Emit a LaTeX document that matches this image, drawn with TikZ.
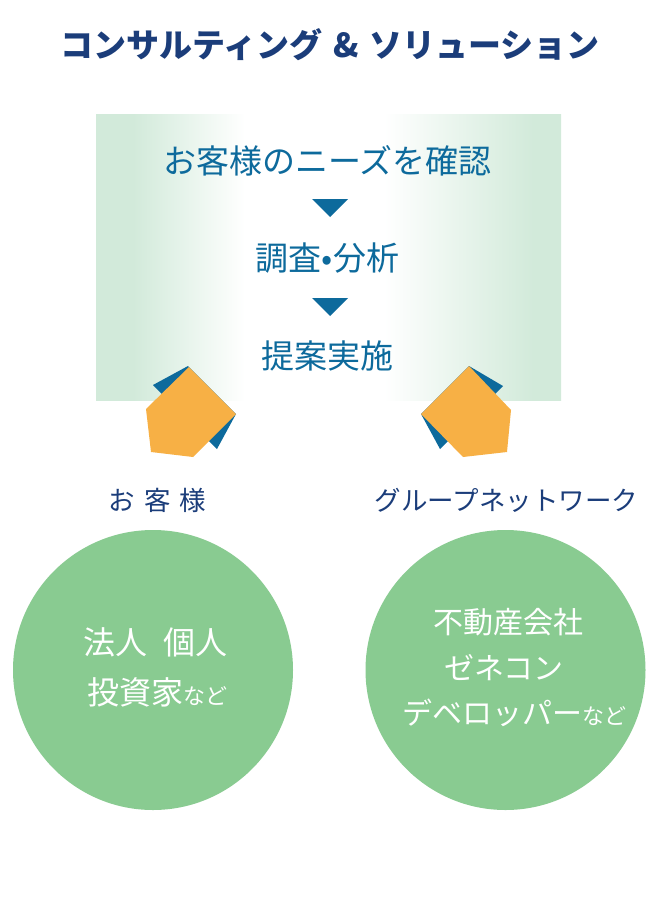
\documentclass[tikz,border=0pt]{standalone}
\usepackage{fontspec}
\setmainfont{Noto Sans CJK JP}
\definecolor{navy}{HTML}{1B3D7A}
\definecolor{procblue}{HTML}{0D6A9C}
\definecolor{boxgreen}{HTML}{D2EADA}
\definecolor{orangep}{HTML}{F7B045}
\definecolor{circgreen}{HTML}{89CB91}
\pgfdeclarehorizontalshading{boxshade}{100bp}{color(0bp)=(boxgreen); color(25bp)=(boxgreen); color(29bp)=(boxgreen); color(41bp)=(white); color(56bp)=(white); color(72bp)=(boxgreen); color(75bp)=(boxgreen); color(100bp)=(boxgreen)}
\tikzset{
  titletext/.style={inner sep=0pt, text=navy, font=\fontsize{33}{33}\selectfont\bfseries},
  proctext/.style={inner sep=0pt, text=procblue, font=\fontsize{33}{33}\selectfont},
  labeltext/.style={inner sep=0pt, text=navy, font=\fontsize{26.5}{26.5}\selectfont},
  circtext/.style={inner sep=0pt, text=white, font=\fontsize{32}{32}\selectfont},
  circtextr/.style={inner sep=0pt, text=white, font=\fontsize{30}{30}\selectfont},
  downtri/.style={fill=procblue},
  gem/.style={fill=orangep},
  gemback/.style={fill=procblue},
  bigcircle/.style={circle, fill=circgreen, minimum size=280pt, inner sep=0pt}
}
\newcommand{\smallnado}{{\fontsize{22}{22}\selectfont など}}
\begin{document}
\begin{tikzpicture}[x=1pt,y=-1pt]
\useasboundingbox (0,0) rectangle (657,902);
\fill[white] (0,0) rectangle (657,902);
% title
\node[titletext] (title) at (330,45) {コンサルティング\hspace{11pt}\&\hspace{11pt}ソリューション};
% process box
\shade[shading=boxshade] (96,114) rectangle (561,400);
\node[proctext] (p1) at (327.5,161) {お客様のニーズを確認};
\node[proctext] (p2) at (327.5,258) {調査•分析};
\node[proctext] (p3) at (327.5,356) {提案実施};
\fill[downtri] (312,199) -- (348,199) -- (330,217) -- cycle;
\fill[downtri] (312,298) -- (348,298) -- (330,316) -- cycle;
% left gem
\fill[gemback] (153,385) -- (188,366) -- (236,414) -- (217,449) -- cycle;
\fill[gem] (189,367) -- (236,414) -- (193,457) -- (151,452) -- (146,409) -- cycle;
% right gem
\fill[gemback] (469,366) -- (503,386) -- (440,449) -- (421,414) -- cycle;
\fill[gem] (469,366) -- (511,410) -- (507,452) -- (463,457) -- (421,414) -- cycle;
% labels
\node[labeltext] (lab1) at (157.5,500) {お\hspace{9pt}客\hspace{9pt}様};
\node[labeltext] (lab2) at (506.5,500) {グループネットワーク};
% circles
\node[bigcircle] (c1) at (153,670) {};
\node[bigcircle] (c2) at (505.5,670) {};
\node[circtext] (c1a) at (155,642) {法人\hspace{16pt}個人};
\node[circtext] (c1b) at (157,692) {投資家\smallnado};
\node[circtextr] (c2a) at (508,622) {不動産会社};
\node[circtextr] (c2b) at (504,668) {ゼネコン};
\node[circtextr] (c2c) at (514,713) {デベロッパー\smallnado};
\end{tikzpicture}
\end{document}
